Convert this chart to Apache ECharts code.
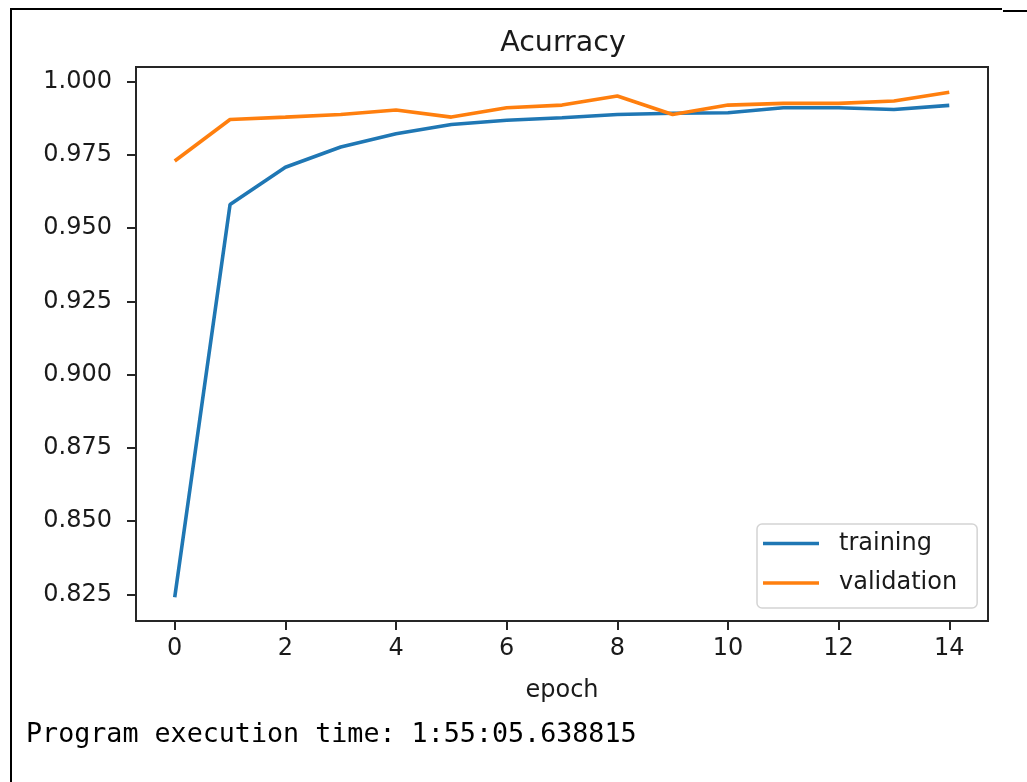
<!DOCTYPE html>
<html>
<head>
<meta charset="utf-8">
<script src="https://cdn.jsdelivr.net/npm/echarts@6/dist/echarts.min.js"></script>
<style>
html,body{margin:0;padding:0;background:#fff;}
#chart{width:1027px;height:782px;}
</style>
</head>
<body>
<div id="chart"></div>
<script>
var epochs = [0,1,2,3,4,5,6,7,8,9,10,11,12,13,14];
var training = [0.8240,0.9581,0.9708,0.9777,0.9822,0.9854,0.9868,0.9877,0.9888,0.9892,0.9894,0.9911,0.9911,0.9905,0.9919];
var validation = [0.9729,0.9871,0.9879,0.9888,0.9903,0.9879,0.9911,0.9920,0.9951,0.9888,0.9920,0.9926,0.9926,0.9934,0.9964];
var xTicks = [0,2,4,6,8,10,12,14];
var yTicks = [0.825,0.850,0.875,0.900,0.925,0.950,0.975,1.000];
var titleText = 'Acurracy';
var xName = 'epoch';
var footerText = 'Program execution time: 1:55:05.638815';

function pairs(ys){ return epochs.map(function(x,i){ return [x, ys[i]]; }); }

var chart = echarts.init(document.getElementById('chart'), null, {renderer:'canvas'});
var FONT = 'DejaVu Sans';
var AX = '#262626';
chart.setOption({
  animation: false,
  backgroundColor: '#ffffff',
  title: {
    text: titleText,
    left: 558, top: 24, textAlign: 'center',
    textStyle: {fontFamily: FONT, fontSize: 28.5, fontWeight: 'normal', color: '#1a1a1a'}
  },
  grid: {left: 136, right: 39, top: 67, bottom: 161, show: true, borderColor: AX, borderWidth: 2, backgroundColor: '#fff'},
  legend: {
    orient: 'vertical', left: 757, top: 524,
    icon: 'rect', itemWidth: 56, itemHeight: 3.5, itemGap: 15.5,
    padding: [7.5, 20, 13, 6],
    backgroundColor: 'rgba(255,255,255,0.8)', borderColor: '#d4d4d4', borderWidth: 1.5, borderRadius: 5,
    textStyle: {fontFamily: FONT, fontSize: 24, color: '#1a1a1a', padding: [8,0,0,15]},
    data: ['training','validation']
  },
  xAxis: {
    type: 'value', min: -0.7, max: 14.7,
    name: xName, nameLocation: 'middle', nameGap: 58,
    nameTextStyle: {fontFamily: FONT, fontSize: 24, color: '#1a1a1a'},
    splitLine: {show: false},
    axisLine: {show: true, onZero: false, lineStyle: {color: AX, width: 2}},
    axisTick: {show: true, length: 9, lineStyle: {color: AX, width: 2}, customValues: xTicks},
    axisLabel: {fontFamily: FONT, fontSize: 24, color: '#1a1a1a', margin: 16, customValues: xTicks}
  },
  yAxis: {
    type: 'value', min: 0.8159, max: 1.005,
    splitLine: {show: false},
    axisLine: {show: true, onZero: false, lineStyle: {color: AX, width: 2}},
    axisTick: {show: true, length: 9, lineStyle: {color: AX, width: 2}, customValues: yTicks},
    axisLabel: {fontFamily: FONT, fontSize: 24, color: '#1a1a1a', margin: 24, customValues: yTicks,
      formatter: function(v){ return v.toFixed(3); }}
  },
  series: [
    {name: 'training', type: 'line', data: pairs(training), showSymbol: false, symbol: 'none',
     lineStyle: {color: '#1f77b4', width: 3.6}, itemStyle: {color: '#1f77b4'}},
    {name: 'validation', type: 'line', data: pairs(validation), showSymbol: false, symbol: 'none',
     lineStyle: {color: '#ff7f0e', width: 3.6}, itemStyle: {color: '#ff7f0e'}}
  ],
  graphic: [
    {type: 'line', shape: {x1: 11, y1: 9, x2: 1002, y2: 9}, style: {stroke: '#000', lineWidth: 2}},
    {type: 'line', shape: {x1: 1003, y1: 11, x2: 1027, y2: 11}, style: {stroke: '#000', lineWidth: 2}},
    {type: 'line', shape: {x1: 11, y1: 8, x2: 11, y2: 782}, style: {stroke: '#000', lineWidth: 2}},
    {type: 'text', left: 26, top: 722, style: {text: footerText, font: '26.7px "DejaVu Sans Mono", "Liberation Mono", monospace', fill: '#000'}}
  ]
});
</script>
</body>
</html>
